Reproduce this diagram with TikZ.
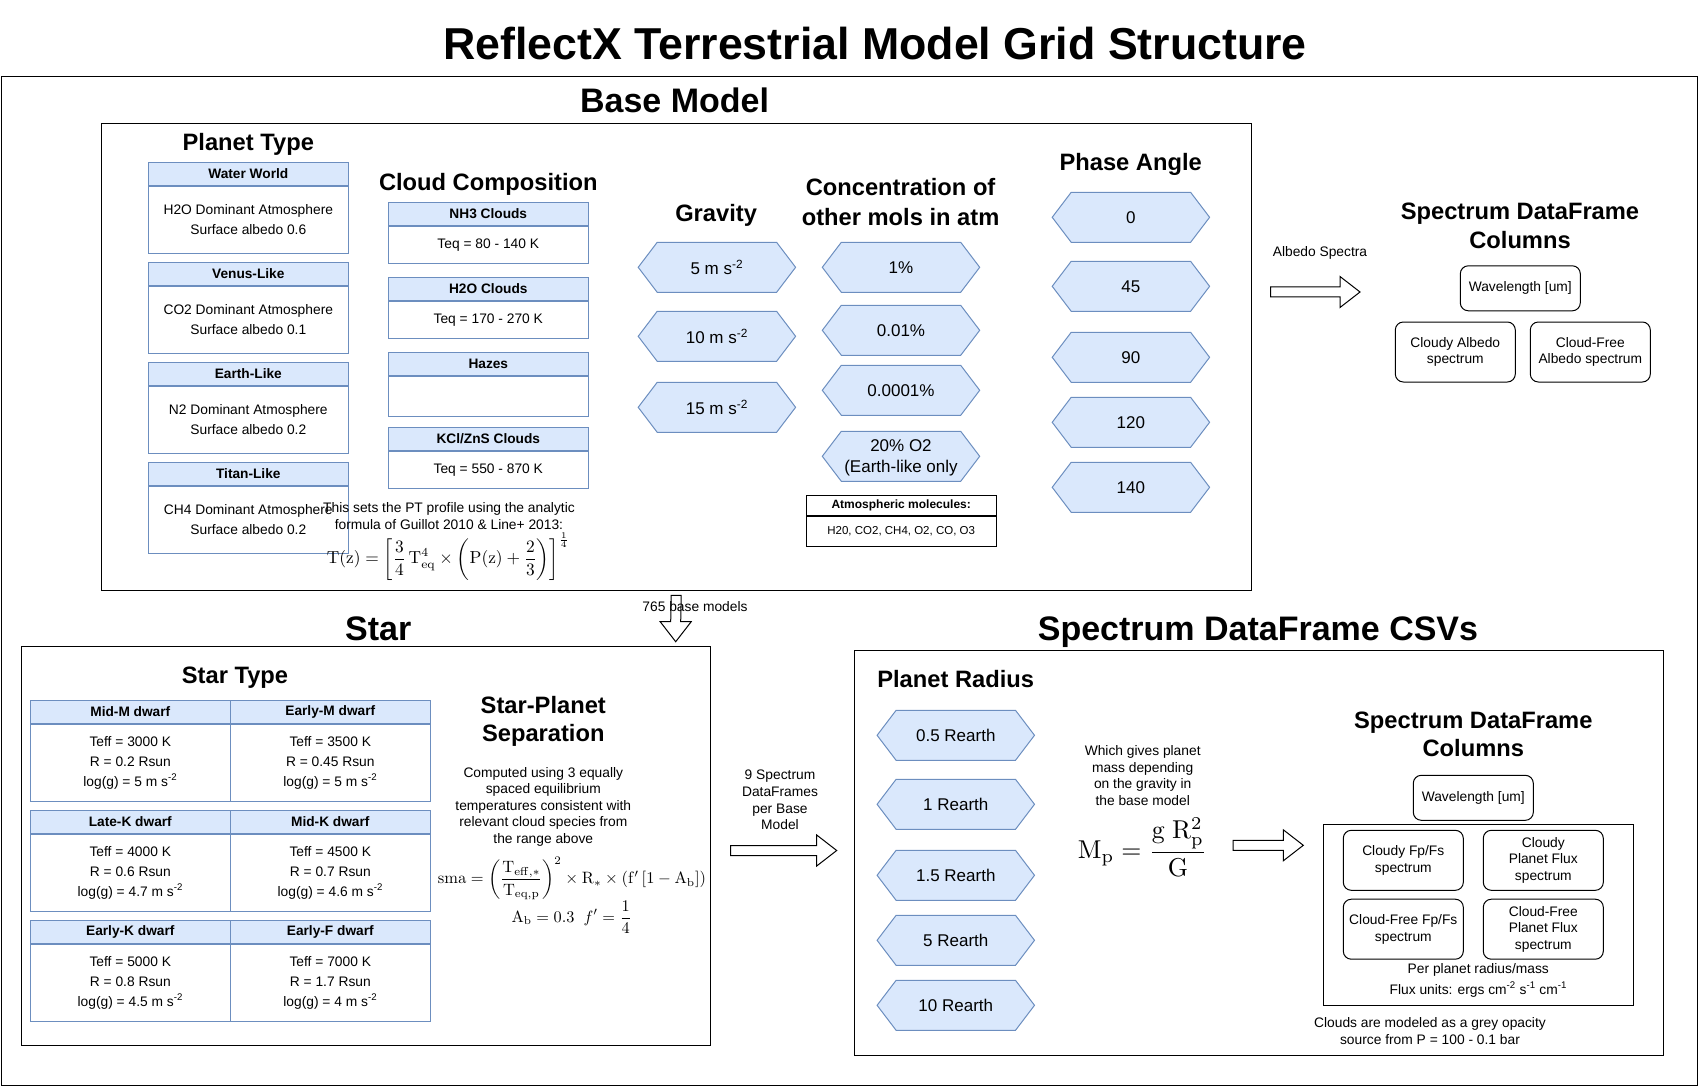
\documentclass[tikz,border=0pt]{standalone}
\usepackage[no-math]{fontspec}
\setmainfont{Liberation Sans}
\usepackage{graphicx}
\usetikzlibrary{calc}

\definecolor{cellfill}{HTML}{DAE8FC}
\definecolor{cellline}{HTML}{6C8EBF}

% hexagon with a centred label: name, x, y, text
\newcommand{\hexbox}[4]{%
  \draw[hexline] (#2-78.7,#3) -- (#2-59.7,#3-25) -- (#2+59.7,#3-25)
    -- (#2+78.7,#3) -- (#2+59.7,#3+25) -- (#2-59.7,#3+25) -- cycle;
  \node[hextext] (#1) at (#2,#3) {#4};}

% hollow block arrows from one coordinate to another
\newcommand{\blockright}[2]{%
  \draw[blockarrow] ($(#1)+(0,-5)$) -- ($(#2)+(-20,-5)$) -- ($(#2)+(-20,-15.5)$)
    -- (#2) -- ($(#2)+(-20,15.5)$) -- ($(#2)+(-20,5)$) -- ($(#1)+(0,5)$) -- cycle;}
\newcommand{\blockdown}[2]{%
  \draw[blockarrow] ($(#1)+(-5,0)$) -- ($(#2)+(-5,-20)$) -- ($(#2)+(-15.5,-20)$)
    -- (#2) -- ($(#2)+(15.5,-20)$) -- ($(#2)+(5,-20)$) -- ($(#1)+(5,0)$) -- cycle;}

\begin{document}
\begin{tikzpicture}[x=1pt, y=-1pt, line width=1pt,
    txt/.style={font=\fontsize{13.8}{16.6}\selectfont, align=center, inner sep=0pt},
    ttl/.style={font=\fontsize{34}{40}\selectfont\bfseries, inner sep=0pt, text depth=0pt},
    sub/.style={font=\fontsize{23.7}{28.4}\selectfont\bfseries, align=center, inner sep=0pt, text depth=0pt},
    panel/.style={draw, anchor=north west, inner sep=0pt},
    hdrcell/.style={draw=cellline, fill=cellfill, minimum width=200pt, minimum height=22.7pt,
      inner sep=0pt, font=\fontsize{13.7}{16}\selectfont\bfseries},
    bodycell/.style={draw=cellline, fill=white, minimum width=200pt, anchor=north,
      inner sep=0pt, align=center, font=\fontsize{13.8}{20}\selectfont},
    hexline/.style={draw=cellline, fill=cellfill},
    hextext/.style={font=\fontsize{17}{21}\selectfont, align=center, inner sep=0pt, text depth=0pt},
    colbox/.style={draw, rounded corners=8pt, minimum width=120pt, inner sep=0pt,
      align=center, font=\fontsize{13.8}{16.7}\selectfont},
    blockarrow/.style={draw, fill=white},
    formula/.style={inner sep=0pt}]

\useasboundingbox (0,0) rectangle (1701,1086);

% frames
\node[panel, minimum width=1696pt, minimum height=1008.5pt] (outer) at (1,76) {};
\node[panel, minimum width=1149.6pt, minimum height=467.4pt] (basebox) at (100.9,122.6) {};
\node[panel, minimum width=689.7pt, minimum height=398.8pt] (starbox) at (20.7,645.7) {};
\node[panel, minimum width=809.5pt, minimum height=405pt] (csvbox) at (853.5,650) {};

% titles
\node[font=\fontsize{44.7}{50}\selectfont\bfseries, inner sep=0pt] (title) at (875,43.4) {ReflectX Terrestrial Model Grid Structure};
\node[ttl] (basettl) at (674.6,99.8) {Base Model};
\node[ttl] (starttl) at (378.3,628.3) {Star};
\node[ttl] (csvttl) at (1258,629) {Spectrum DataFrame CSVs};

% planet type
\node[sub] (ptype) at (248.3,141.7) {Planet Type};
\node[hdrcell] (water) at (248.3,174) {Water World};
\node[bodycell, minimum height=67pt] (waterb) at (water.south) {H2O Dominant Atmosphere\\Surface albedo 0.6};
\node[hdrcell] (venus) at (248.3,274) {Venus-Like};
\node[bodycell, minimum height=67pt] (venusb) at (venus.south) {CO2 Dominant Atmosphere\\Surface albedo 0.1};
\node[hdrcell] (earth) at (248.3,374) {Earth-Like};
\node[bodycell, minimum height=67pt] (earthb) at (earth.south) {N2 Dominant Atmosphere\\Surface albedo 0.2};
\node[hdrcell] (titan) at (248.3,474) {Titan-Like};
\node[bodycell, minimum height=67pt] (titanb) at (titan.south) {CH4 Dominant Atmosphere\\Surface albedo 0.2};

% cloud composition
\node[sub] (cloudttl) at (488.3,181.7) {Cloud Composition};
\node[hdrcell] (nh3) at (488.3,214) {NH3 Clouds};
\node[bodycell, minimum height=37pt] (nh3b) at (nh3.south) {Teq = 80 - 140 K};
\node[hdrcell] (h2o) at (488.3,289) {H2O Clouds};
\node[bodycell, minimum height=37pt] (h2ob) at (h2o.south) {Teq = 170 - 270 K};
\node[hdrcell] (hazes) at (488.3,364) {Hazes};
\node[bodycell, minimum height=40pt] (hazesb) at (hazes.south) {};
\node[hdrcell] (kcl) at (488.3,439) {KCl/ZnS Clouds};
\node[bodycell, minimum height=37pt] (kclb) at (kcl.south) {Teq = 550 - 870 K};

% PT profile note
\node[txt] (pttxt) at (449,515.8) {This sets the PT profile using the analytic\\formula of Guillot 2010 \& Line+ 2013:};
\node[formula] (ptform) at (448.3,556.5) {\resizebox{243pt}{!}{$\displaystyle \mathrm{T(z)} = \left[\frac{3}{4}\,\mathrm{T_{eq}^{4}} \times \left(\mathrm{P(z)} + \frac{2}{3}\right)\right]^{\frac{1}{4}}$}};

% gravity
\node[sub] (gravttl) at (716.1,212.7) {Gravity};
\hexbox{g5}{716.9}{267.3}{5 m s\textsuperscript{-2}}
\hexbox{g10}{716.9}{336.3}{10 m s\textsuperscript{-2}}
\hexbox{g15}{716.9}{407.3}{15 m s\textsuperscript{-2}}

% concentration
\node[sub, font=\fontsize{23.7}{30}\selectfont\bfseries] (concttl) at (900.6,201.7) {Concentration of\\other mols in atm};
\hexbox{c1}{901}{267.3}{1\%}
\hexbox{c2}{901}{330.3}{0.01\%}
\hexbox{c3}{901}{390.3}{0.0001\%}
\hexbox{c4}{901}{456.3}{20\% O2\\(Earth-like only}
\node[draw, minimum width=190.4pt, minimum height=20.4pt, inner sep=0pt, font=\fontsize{12}{14}\selectfont\bfseries] (atmhdr) at (901.2,505.5) {Atmospheric molecules:};
\node[draw, minimum width=190.4pt, minimum height=29.6pt, anchor=north, inner sep=0pt, font=\fontsize{11.5}{14}\selectfont] (atmbody) at (atmhdr.south) {H20, CO2, CH4, O2, CO, O3};

% phase angle
\node[sub] (phasettl) at (1130.7,161.7) {Phase Angle};
\hexbox{p0}{1130.9}{217.3}{0}
\hexbox{p45}{1130.9}{286.3}{45}
\hexbox{p90}{1130.9}{357.3}{90}
\hexbox{p120}{1130.9}{422.3}{120}
\hexbox{p140}{1130.9}{487.3}{140}

% albedo spectrum columns
\coordinate (albout) at (1270.7,292);
\coordinate (albin) at (1360,292);
\blockright{albout}{albin}
\node[txt] (albtxt) at (1320,253.3) {Albedo Spectra};
\node[sub] (colttl) at (1520,225.8) {Spectrum DataFrame\\Columns};
\node[colbox, minimum height=45pt] (wave) at (1520.3,288.3) {Wavelength [um]};
\node[colbox, minimum height=60pt] (cloudy) at (1455.3,352) {Cloudy Albedo\\spectrum};
\node[colbox, minimum height=60pt] (clear) at (1590.3,352) {Cloud-Free\\Albedo spectrum};

% down to the star block
\coordinate (basetap) at ($(basebox.south)+(0,4.3)$);
\coordinate (starin) at (675.7,641.7);
\blockdown{basetap}{starin}
\node[txt] (nbase) at (695,606.7) {765 base models};

% star type
\node[sub] (stype) at (235,675.7) {Star Type};
\node[hdrcell] (midm) at (130.3,711.8) {Mid-M dwarf};
\node[bodycell, minimum height=77pt] (midmb) at (midm.south) {Teff = 3000 K\\R = 0.2 Rsun\\log(g) = 5 m s\textsuperscript{-2}};
\node[hdrcell] (earlym) at (330.3,711.8) {Early-M dwarf};
\node[bodycell, minimum height=77pt] (earlymb) at (earlym.south) {Teff = 3500 K\\R = 0.45 Rsun\\log(g) = 5 m s\textsuperscript{-2}};
\node[hdrcell] (latek) at (130.3,821.8) {Late-K dwarf};
\node[bodycell, minimum height=77pt] (latekb) at (latek.south) {Teff = 4000 K\\R = 0.6 Rsun\\log(g) = 4.7 m s\textsuperscript{-2}};
\node[hdrcell] (midk) at (330.3,821.8) {Mid-K dwarf};
\node[bodycell, minimum height=77pt] (midkb) at (midk.south) {Teff = 4500 K\\R = 0.7 Rsun\\log(g) = 4.6 m s\textsuperscript{-2}};
\node[hdrcell] (earlyk) at (130.3,931.8) {Early-K dwarf};
\node[bodycell, minimum height=77pt] (earlykb) at (earlyk.south) {Teff = 5000 K\\R = 0.8 Rsun\\log(g) = 4.5 m s\textsuperscript{-2}};
\node[hdrcell] (earlyf) at (330.3,931.8) {Early-F dwarf};
\node[bodycell, minimum height=77pt] (earlyfb) at (earlyf.south) {Teff = 7000 K\\R = 1.7 Rsun\\log(g) = 4 m s\textsuperscript{-2}};

% star-planet separation
\node[sub] (septtl) at (543.3,719.2) {Star-Planet\\Separation};
\node[txt] (septxt) at (543.3,806.7) {Computed using 3 equally\\spaced equilibrium\\temperatures consistent with\\relevant cloud species from\\the range above};
\node[formula] (smaform) at (572,878.3) {\resizebox{268pt}{!}{$\displaystyle \mathrm{sma} = \left(\frac{\mathrm{T_{eff,*}}}{\mathrm{T_{eq,p}}}\right)^{2} \times \mathrm{R_{*}} \times (\mathrm{f'}\,[1-\mathrm{A_b}])$}};
\node[formula] (abform) at (571.7,917) {\resizebox{120pt}{!}{$\displaystyle \mathrm{A_b} = 0.3\;\; f' = \frac{1}{4}$}};

% on to the CSVs
\coordinate (sepout) at (730.7,850.5);
\coordinate (csvin) at (836.7,850.5);
\blockright{sepout}{csvin}
\node[txt] (ninefr) at (780,800) {9 Spectrum\\DataFrames\\per Base\\Model};

% planet radius
\node[sub] (radttl) at (955.7,679.3) {Planet Radius};
\hexbox{r05}{955.8}{735.3}{0.5 Rearth}
\hexbox{r1}{955.8}{804.3}{1 Rearth}
\hexbox{r15}{955.8}{875.3}{1.5 Rearth}
\hexbox{r5}{955.8}{940.3}{5 Rearth}
\hexbox{r10}{955.8}{1005.3}{10 Rearth}
\node[txt] (masstxt) at (1142.7,775.4) {Which gives planet\\mass depending\\on the gravity in\\the base model};
\node[formula] (mpform) at (1142.5,847) {\resizebox{129pt}{!}{$\displaystyle \mathrm{M_p} = \frac{\mathrm{g\ R_p^2}}{\mathrm{G}}$}};

% flux spectrum columns
\coordinate (mpout) at (1233,845.3);
\coordinate (colin) at (1303.3,845.3);
\blockright{mpout}{colin}
\node[sub] (colttlb) at (1473.3,734.5) {Spectrum DataFrame\\Columns};
\node[colbox, minimum height=45pt] (waveb) at (1473.3,797.8) {Wavelength [um]};
\node[draw, minimum width=310pt, minimum height=180.7pt, anchor=north west, inner sep=0pt] (perrad) at (1323.3,824.3) {};
\node[colbox, minimum height=60pt] (cfpfs) at (1403.3,860.3) {Cloudy Fp/Fs\\spectrum};
\node[colbox, minimum height=60pt] (cflux) at (1543.3,860.3) {Cloudy\\Planet Flux\\spectrum};
\node[colbox, minimum height=60pt] (ffpfs) at (1403.3,929.2) {Cloud-Free Fp/Fs\\spectrum};
\node[colbox, minimum height=60pt] (fflux) at (1543.3,929.2) {Cloud-Free\\Planet Flux\\spectrum};
\node[txt, font=\fontsize{13.8}{20.7}\selectfont] (perradtxt) at (1478.3,980.3) {Per planet radius/mass\\Flux units: ergs cm\textsuperscript{-2} s\textsuperscript{-1} cm\textsuperscript{-1}};
\node[txt, font=\fontsize{13.8}{17.4}\selectfont] (cloudnote) at (1430,1031) {Clouds are modeled as a grey opacity\\source from P = 100 - 0.1 bar};

\end{tikzpicture}
\end{document}
